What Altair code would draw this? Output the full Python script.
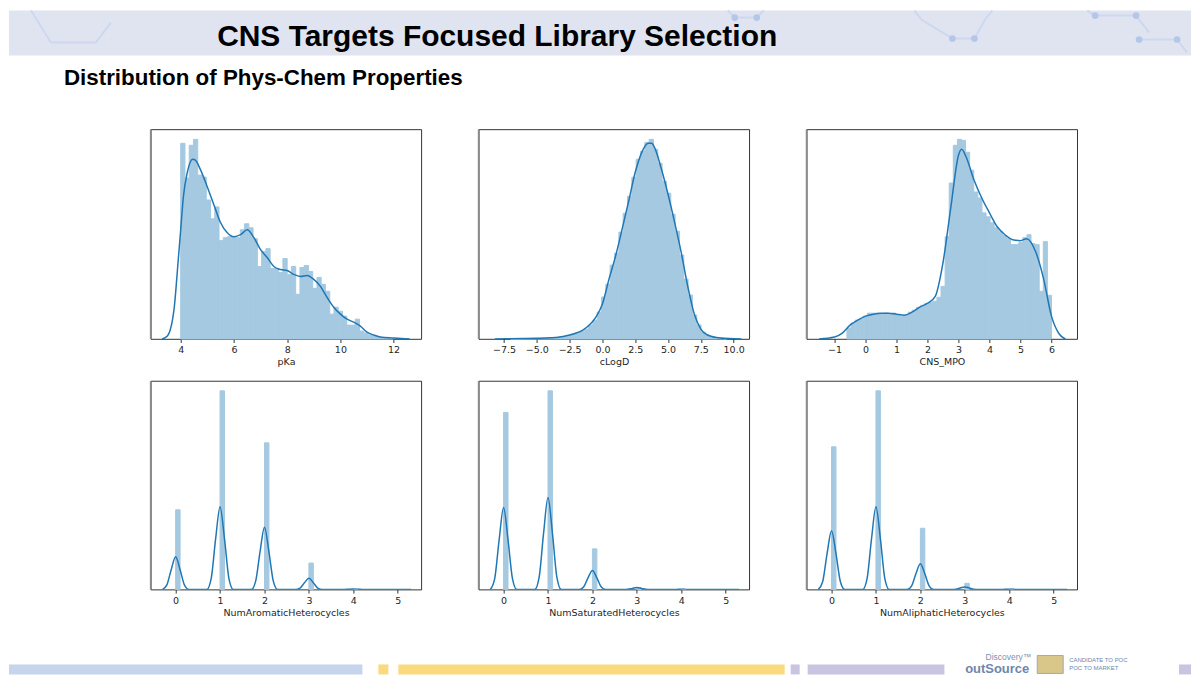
import altair as alt
import pandas as pd

# ---------------- data ----------------
# pKa histogram (50 bins starting at 4.0, width 0.16), density-like units
PKA_BIN_START = 4.0
PKA_BIN_WIDTH = 0.16
pka_hist = [197, 162, 195, 201, 165, 163, 140, 121, 133, 99,
            102, 103, 103, 102, 110, 116, 112, 101, 73, 88,
            91, 71, 71, 67, 81, 65, 73, 45, 72, 74,
            68, 51, 62, 55, 48, 25, 32, 28, 23, 14,
            14, 20, 8, 6, 4, 3, 2, 1, 1, 0.5]
pka_kde_x = [3.3, 3.5, 3.75, 3.9, 4.0, 4.1, 4.25, 4.45, 4.55, 4.75,
             5.0, 5.25, 5.5, 5.75, 6.0, 6.25, 6.5, 6.75, 7.0, 7.25,
             7.5, 7.75, 8.0, 8.25, 8.5, 8.75, 9.0, 9.25, 9.5, 9.75,
             10.0, 10.25, 10.5, 10.75, 11.0, 11.25, 11.5, 12.0, 12.6]
pka_kde_y = [0, 3, 30, 77, 110, 143, 168, 181, 180, 170,
             153, 135, 117, 107, 103, 105, 110, 102, 90, 82,
             73, 70, 69, 65, 63, 64, 60, 53, 42, 32,
             25, 20, 17, 13, 7, 4, 2, 1, 0]

# cLogD histogram (50 bins starting at -7.0, width 0.33)
CLOGD_BIN_START = -7.0
CLOGD_BIN_WIDTH = 0.33
clogd_hist = [0.3, 0.3, 0.3, 0.4, 0.4, 0.5, 0.6, 0.8, 1.0, 1.2,
              1.5, 2, 2.5, 3.5, 5, 6, 8, 10, 14, 19,
              27, 42, 55, 74, 86, 107, 126, 143, 162, 180,
              188, 197, 200, 190, 176, 158, 146, 125, 108, 84,
              60, 44, 24, 14, 7, 4, 2, 1.5, 1, 0.5]
clogd_kde_x = [-8.2, -6.0, -5.0, -4.0, -3.0, -2.5, -2.0, -1.5, -1.0, -0.5,
               0, 0.5, 1.0, 1.5, 2.0, 2.5, 3.0, 3.5, 3.75, 4.0,
               4.5, 5.0, 5.5, 6.0, 6.5, 7.0, 7.5, 8.0, 9.0, 10.6]
clogd_kde_y = [0, 0.4, 0.7, 1.2, 2.5, 4, 6, 9, 14, 22,
               35, 60, 83, 110, 138, 167, 187, 196, 196, 191,
               170, 145, 117, 87, 53, 25, 10, 4, 1, 0]

# CNS_MPO histogram (50 bins starting at -0.6, width 0.132)
CNS_BIN_START = -0.6
CNS_BIN_WIDTH = 0.132
cns_hist = [11, 16, 19, 20, 23, 26, 26, 26, 25, 26,
            25, 26, 24, 23, 24, 27, 29, 32, 34, 36,
            37, 38, 42, 53, 103, 157, 195, 201, 200, 188,
            170, 148, 142, 127, 123, 117, 112, 108, 104, 101,
            95, 95, 97, 102, 105, 96, 95, 48, 98, 44]
cns_kde_x = [-1.5, -1.0, -0.75, -0.5, -0.25, 0, 0.25, 0.5, 0.75, 1.0,
             1.25, 1.5, 1.75, 2.0, 2.25, 2.5, 2.75, 3.0, 3.1, 3.25,
             3.5, 3.75, 4.0, 4.25, 4.5, 4.75, 5.0, 5.2, 5.5, 5.75,
             6.0, 6.25, 6.45]
cns_kde_y = [0, 2, 6, 14, 19, 23, 25, 26, 26, 25,
             24, 27, 32, 36, 43, 77, 132, 185, 191, 183,
             160, 142, 127, 113, 105, 100, 99, 101, 87, 60,
             23, 5, 0]

# ring-count panels: bars at integer values, width 0.1
COUNT_BIN_WIDTH = 0.1
count_values = [0, 1, 2, 3, 4]
aro_hist = [80.3, 200, 147.7, 26.7, 0.4]
sat_hist = [178.3, 200, 41, 2, 0.3]
ali_hist = [143.7, 200, 61.7, 6.3, 0.5]
count_kde_x = [-0.3, -0.2, -0.1, 0, 0.1, 0.2, 0.3,
               0.7, 0.8, 0.9, 1, 1.1, 1.2, 1.3,
               1.7, 1.8, 1.9, 2, 2.1, 2.2, 2.3,
               2.7, 2.8, 2.9, 3, 3.1, 3.2, 3.3,
               3.7, 3.8, 3.9, 4, 4.1, 4.2, 4.3,
               5.3]
aro_kde_y = [0, 4.4, 20, 33, 20, 4.4, 0,
             0, 11, 51, 83.3, 51, 11, 0,
             0, 8.3, 38, 62.7, 38, 8.3, 0,
             0, 1.5, 6.9, 11.3, 6.9, 1.5, 0,
             0, 0.1, 0.4, 0.6, 0.4, 0.1, 0,
             0]
sat_kde_y = [0, 11, 50, 82.7, 50, 11, 0,
             0, 12.3, 56.5, 92.7, 56.5, 12.3, 0,
             0, 2.6, 11.8, 19.3, 11.8, 2.6, 0,
             0, 0.3, 1.2, 2, 1.2, 0.3, 0,
             0, 0.05, 0.2, 0.3, 0.2, 0.05, 0,
             0]
ali_kde_y = [0, 7.9, 36.2, 59.3, 36.2, 7.9, 0,
             0, 11, 51, 83.3, 51, 11, 0,
             0, 3.5, 15.9, 26, 15.9, 3.5, 0,
             0, 0.4, 1.6, 2.7, 1.6, 0.4, 0,
             0, 0.05, 0.25, 0.4, 0.25, 0.05, 0,
             0]

# axis ticks and limits
pka_ticks = [4, 6, 8, 10, 12]
clogd_ticks = [-7.5, -5.0, -2.5, 0.0, 2.5, 5.0, 7.5, 10.0]
cns_ticks = [-1, 0, 1, 2, 3, 4, 5, 6]
count_ticks = [0, 1, 2, 3, 4, 5]
pka_lim = [2.875, 13.04]
clogd_lim = [-9.43, 11.19]
cns_lim = [-1.90, 6.83]
count_lim = [-0.56, 5.53]

TITLE = "CNS Targets Focused Library Selection"
SUBTITLE = "Distribution of Phys-Chem Properties"

# ---------------- styling ----------------
BAR_COLOR = "#a5c9e1"
LINE_COLOR = "#1f77b4"
PANEL_W = 271
ROW1_H = 210
ROW2_H = 209
ONE = pd.DataFrame({"a": [0]})


def regular_bins(start, width, heights):
    return pd.DataFrame({
        "x": [start + i * width for i in range(len(heights))],
        "x2": [start + (i + 1) * width for i in range(len(heights))],
        "h": heights,
    })


def count_bins(values, width, heights):
    return pd.DataFrame({
        "x": values,
        "x2": [v + width for v in values],
        "h": heights,
    })


def panel_layers(hist_df, kde_x, kde_y, title, lim, ticks, fmt, height):
    kde_df = pd.DataFrame({"x": kde_x, "y": kde_y})
    ymax = 1.05 * max(max(hist_df["h"]), max(kde_y))
    xs = alt.Scale(domain=lim, nice=False, zero=False)
    ys = alt.Scale(domain=[0, ymax], nice=False)
    axis = alt.Axis(values=ticks, format=fmt, title=title, grid=False, domain=False,
                    tickSize=3.5, tickWidth=0.8, tickColor="#000000",
                    labelFont="DejaVu Sans", labelFontSize=9.5, labelColor="#262626",
                    labelPadding=2, labelFlush=False, labelOverlap=False,
                    titleFont="DejaVu Sans", titleFontSize=9.5, titleFontWeight="normal",
                    titleColor="#262626", titlePadding=3)
    bars = alt.Chart(hist_df).mark_rect(color=BAR_COLOR, stroke=BAR_COLOR, strokeWidth=1).encode(
        x=alt.X("x:Q", scale=xs, axis=axis),
        x2="x2:Q",
        y=alt.Y("h:Q", scale=ys, axis=None),
        y2=alt.datum(0),
    )
    line = alt.Chart(kde_df).mark_line(color=LINE_COLOR, strokeWidth=1.5,
                                       interpolate="monotone", clip=True).encode(
        x=alt.X("x:Q", scale=xs, axis=axis),
        y=alt.Y("y:Q", scale=ys, axis=None),
    )
    edge = alt.Chart(ONE).mark_rule(color="#8c8c8c", strokeWidth=1.8).encode(
        x=alt.value(0), y=alt.value(0), y2=alt.value(height)
    )
    return [bars, line, edge]


def finish(layers, height):
    return alt.layer(*layers).properties(
        width=PANEL_W, height=height,
        view=alt.ViewBackground(stroke="#000000", strokeWidth=0.8),
    )


# ---------------- slide decorations (pixel offsets from the first panel) ----------------
OX, OY = 150, 127  # page position of the first panel


def prect(x0, x1, y0, y1, color, **kw):
    return alt.Chart(ONE).mark_rect(color=color, **kw).encode(
        x=alt.value(x0 - OX), x2=alt.value(x1 - OX), y=alt.value(y0 - OY), y2=alt.value(y1 - OY))


def ptext(txt, x, y, size, color="#000000", weight="normal", align="left"):
    return alt.Chart(ONE).mark_text(
        text=txt, font="Liberation Sans", fontSize=size, fontWeight=weight,
        color=color, align=align, baseline="alphabetic").encode(
        x=alt.value(x - OX), y=alt.value(y - OY))


def pbond(x0, y0, x1, y1):
    return alt.Chart(ONE).mark_rule(color="#cdd8ee", strokeWidth=2).encode(
        x=alt.value(x0 - OX), y=alt.value(y0 - OY), x2=alt.value(x1 - OX), y2=alt.value(y1 - OY))


def pnode(x, y):
    return alt.Chart(ONE).mark_point(filled=True, color="#b4c7e9", size=45, opacity=1).encode(
        x=alt.value(x - OX), y=alt.value(y - OY))


hexagons = [
    pbond(735, 15, 757, 15), pbond(735, 15, 728, 8), pbond(757, 15, 764, 8),
    pbond(922, 17, 953, 36), pbond(953, 36, 975, 36), pbond(975, 36, 987, 15),
    pbond(922, 17, 915, 8), pbond(987, 15, 993, 8),
    pbond(1096, 13, 1137, 13), pbond(1096, 13, 1088, 8), pbond(1137, 13, 1150, 30),
    pbond(1140, 37, 1178, 37), pbond(1178, 37, 1188, 50),
    pbond(30, 8, 50, 40), pbond(50, 40, 95, 40), pbond(95, 40, 110, 20),
]
hex_nodes = [pnode(735, 15), pnode(757, 15), pnode(953, 36), pnode(975, 36),
             pnode(1096, 13), pnode(1137, 13), pnode(1140, 37), pnode(1178, 37)]

decor = [prect(8, 1192, 8, 53, "#dfe4f0")] + hexagons + hex_nodes + [
    ptext(TITLE, 497, 43, 30, weight="bold", align="center"),
    ptext(SUBTITLE, 63, 83, 22.4, weight="bold"),
    prect(8, 362, 663, 673, "#c6d4ec"),
    prect(378, 388, 663, 673, "#fbd97e"),
    prect(398, 785, 663, 673, "#fbd97e"),
    prect(791, 800, 663, 673, "#c9c4e0"),
    prect(808, 945, 663, 673, "#c9c4e0"),
    prect(1180, 1192, 663, 673, "#c9c4e0"),
    ptext("Discovery\u2122", 1032, 659, 8.5, color="#8090b0", align="right"),
    ptext("outSource", 1030, 672, 13, color="#6f86ad", weight="bold", align="right"),
    prect(1038, 1064, 654, 672, "#d9c78a", stroke="#9aa9c4", strokeWidth=1),
    ptext("CANDIDATE TO POC", 1070, 661, 6, color="#6f86ad"),
    ptext("POC TO MARKET", 1070, 669, 6, color="#6f86ad"),
]

p_pka = finish(decor + panel_layers(regular_bins(PKA_BIN_START, PKA_BIN_WIDTH, pka_hist),
                                    pka_kde_x, pka_kde_y, "pKa", pka_lim, pka_ticks, "d", ROW1_H), ROW1_H)
p_clogd = finish(panel_layers(regular_bins(CLOGD_BIN_START, CLOGD_BIN_WIDTH, clogd_hist),
                              clogd_kde_x, clogd_kde_y, "cLogD", clogd_lim, clogd_ticks, ".1f", ROW1_H), ROW1_H)
p_cns = finish(panel_layers(regular_bins(CNS_BIN_START, CNS_BIN_WIDTH, cns_hist),
                            cns_kde_x, cns_kde_y, "CNS_MPO", cns_lim, cns_ticks, "d", ROW1_H), ROW1_H)
p_aro = finish(panel_layers(count_bins(count_values, COUNT_BIN_WIDTH, aro_hist),
                            count_kde_x, aro_kde_y, "NumAromaticHeterocycles", count_lim, count_ticks, "d", ROW2_H), ROW2_H)
p_sat = finish(panel_layers(count_bins(count_values, COUNT_BIN_WIDTH, sat_hist),
                            count_kde_x, sat_kde_y, "NumSaturatedHeterocycles", count_lim, count_ticks, "d", ROW2_H), ROW2_H)
p_ali = finish(panel_layers(count_bins(count_values, COUNT_BIN_WIDTH, ali_hist),
                            count_kde_x, ali_kde_y, "NumAliphaticHeterocycles", count_lim, count_ticks, "d", ROW2_H), ROW2_H)

chart = alt.concat(
    p_pka, p_clogd, p_cns, p_aro, p_sat, p_ali,
    columns=3, spacing={"row": 42, "column": 57.5}, bounds="flush",
).properties(
    padding=0, background="#ffffff"
).configure_view(stroke="transparent")

chart.save("out.html", embed_options={"renderer": "svg", "actions": False})
